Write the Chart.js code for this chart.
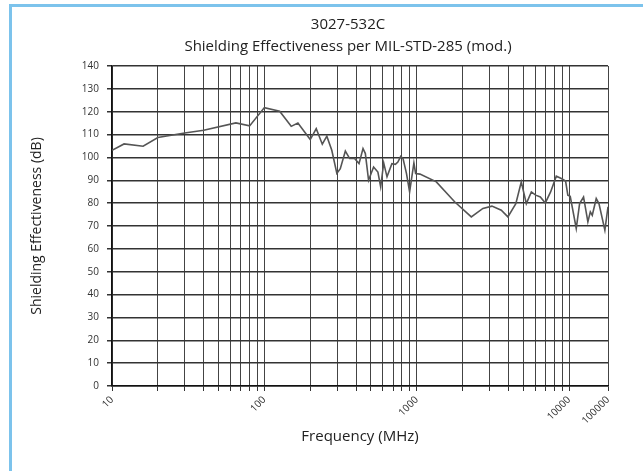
<!DOCTYPE html>
<html>
<head>
<meta charset="utf-8">
<script src="https://cdn.jsdelivr.net/npm/chart.js@4/dist/chart.umd.min.js"></script>
<style>
  html, body { margin: 0; padding: 0; background: #fff; }
  #frame { position: absolute; left: 9px; top: 4px; width: 640px; height: 470px;
           border-top: 3px solid #7cc3ec; border-left: 3px solid #7cc3ec; pointer-events: none; }
  canvas { position: absolute; left: 0; top: 0; }
</style>
</head>
<body>
<canvas id="chartSE" width="643" height="471"></canvas>
<div id="frame"></div>
<script>
// frequency (MHz) and shielding effectiveness (dB)
const freqs = [10, 12, 16, 20, 30, 40, 65, 80, 100, 126, 150, 166, 200, 219, 240, 257, 277, 299,
  315, 340, 363, 391, 418, 444, 460, 483, 521, 556, 580, 607, 638, 687, 724, 752, 785, 813,
  856, 898, 958, 983, 1050, 1345, 1773, 2281, 2718, 3114, 3589, 3965, 4470, 4855, 5239, 5652,
  6034, 6474, 6980, 7560, 8240, 8890, 9480, 9810, 10170, 11140, 11720, 12440, 13280, 13780,
  14190, 15070, 15700, 17170, 18000];
const seDb = [103.1, 105.9, 104.9, 108.7, 110.7, 111.9, 115.1, 113.8, 121.8, 120.2, 113.6, 115.1,
  107.8, 112.6, 105.8, 109.3, 103.1, 93, 95.1, 102.8, 99.5, 99.5, 97.3, 103.9, 101.7, 90, 95.8,
  93.6, 87.1, 97.6, 91.5, 97.3, 97, 98, 100.5, 99.5, 93, 84.9, 97.6, 93, 92.7, 89.3, 80.6, 74,
  77.7, 78.7, 76.9, 74, 79.8, 89.3, 79.8, 84.9, 83.5, 82.7, 80.1, 84.9, 91.8, 90.8, 89.7, 83.5,
  83, 68.9, 79.8, 82.7, 71.8, 76.2, 74.7, 82, 79.8, 68.2, 78.4];

// x grid positions and the labels shown under them
const xGrid = [10, 20, 30, 40, 50, 60, 70, 80, 90, 100, 200, 300, 400, 500, 600, 700, 800, 900,
  1000, 2000, 3000, 4000, 5000, 6000, 7000, 8000, 9000, 10000, 18000];
const xLabels = { 10: '10', 100: '100', 1000: '1000', 10000: '10000', 18000: '100000' };

const titleLines = ['3027-532C', 'Shielding Effectiveness per MIL-STD-285 (mod.)'];

Chart.defaults.font.family = '"Open Sans", sans-serif';
Chart.defaults.color = '#333';

// two title lines, centred a bit left of the plot centre like the original
const titlePlugin = {
  id: 'titleLines',
  afterDraw(chart) {
    const ctx = chart.ctx;
    ctx.save();
    ctx.font = '15px "Open Sans", sans-serif';
    ctx.fillStyle = '#222';
    ctx.textAlign = 'center';
    ctx.textBaseline = 'middle';
    ctx.fillText(titleLines[0], 348, 25);
    ctx.fillText(titleLines[1], 348, 47);
    ctx.restore();
  },
};

new Chart(document.getElementById('chartSE').getContext('2d'), {
  type: 'line',
  data: {
    datasets: [{
      data: freqs.map((f, i) => ({ x: f, y: seDb[i] })),
      borderColor: '#555', borderWidth: 1.6, pointRadius: 0, tension: 0, fill: false,
    }],
  },
  options: {
    responsive: false, animation: false,
    layout: { padding: { left: 12, right: 35, top: 66, bottom: 21 } },
    plugins: {
      legend: { display: false },
      tooltip: { enabled: false },
    },
    scales: {
      x: {
        type: 'logarithmic', min: 10, max: 18000,
        afterBuildTicks: s => { s.ticks = xGrid.map(v => ({ value: v })); },
        afterFit: s => { s.height = 64; },
        ticks: {
          autoSkip: false, minRotation: 45, maxRotation: 45, padding: 3,
          font: { size: 10 }, color: '#333',
          callback: v => xLabels[v] || '',
        },
        grid: { color: '#444', lineWidth: 1, tickLength: 5, tickColor: '#333' },
        border: { color: '#111', width: 1.5 },
        title: {
          display: true, text: 'Frequency (MHz)', color: '#222',
          font: { size: 15 }, padding: { top: 0, bottom: 4 },
        },
      },
      y: {
        min: 0, max: 140,
        afterFit: s => { s.width = 100; },
        ticks: { stepSize: 10, padding: 8, font: { size: 10 }, color: '#333' },
        grid: { color: '#333', lineWidth: 1.5, tickLength: 5, tickColor: '#333' },
        border: { color: '#111', width: 1.5 },
        title: {
          display: true, text: 'Shielding Effectiveness (dB)', color: '#222',
          font: { size: 14 }, padding: { top: 17, bottom: 0 },
        },
      },
    },
  },
  plugins: [titlePlugin],
});
</script>
</body>
</html>
